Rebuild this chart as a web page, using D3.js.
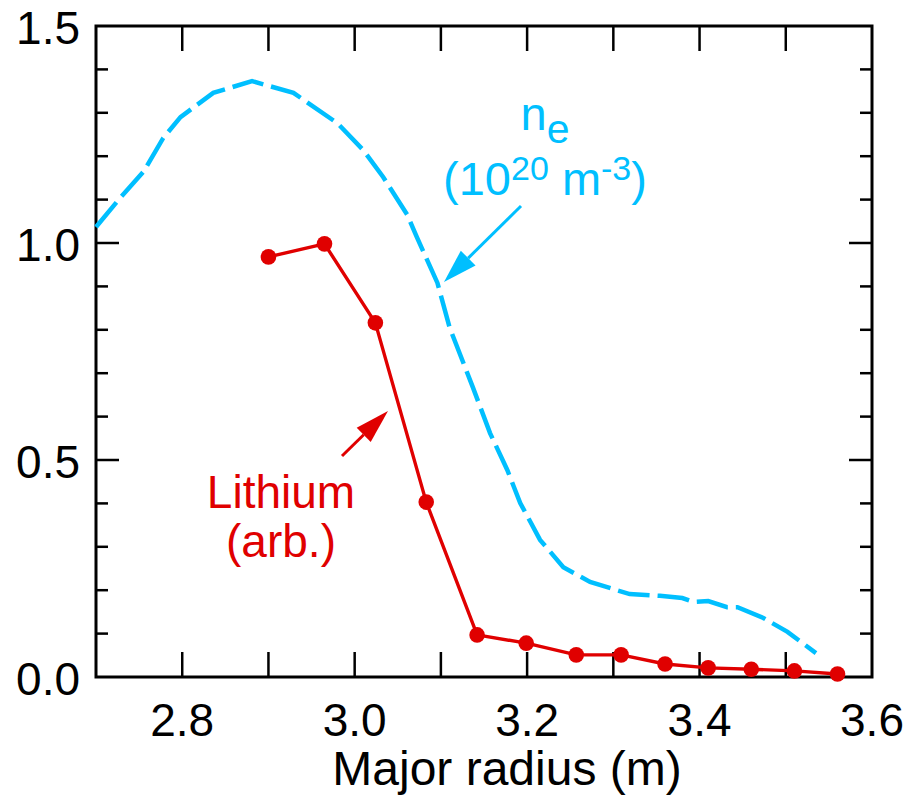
<!DOCTYPE html>
<html>
<head>
<meta charset="utf-8">
<script src="https://cdn.jsdelivr.net/npm/d3@7"></script>
<style>
  html, body { margin: 0; padding: 0; background: #fff; }
  svg { display: block; font-family: "Liberation Sans", Arial, Helvetica, sans-serif; }
</style>
</head>
<body>
<svg id="chart" width="912" height="795"></svg>
<script>
// Lithium emission (arbitrary units) vs major radius
const lithiumR = [2.900, 2.965, 3.024, 3.083, 3.142, 3.199, 3.257, 3.309, 3.360, 3.410, 3.460, 3.510, 3.560];
const lithiumV = [0.968, 0.998, 0.816, 0.403, 0.097, 0.078, 0.051, 0.051, 0.030, 0.021, 0.018, 0.014, 0.007];

// Electron density profile n_e (10^20 m^-3)
const densityR = [2.700, 2.728, 2.755, 2.778, 2.798, 2.836, 2.881, 2.929, 2.980, 3.010, 3.033, 3.061, 3.072,
                  3.096, 3.110, 3.126, 3.137, 3.157, 3.177, 3.192, 3.215, 3.242, 3.273, 3.319, 3.354, 3.380,
                  3.393, 3.410, 3.432, 3.444, 3.474, 3.502, 3.535];
const densityV = [1.037, 1.104, 1.164, 1.242, 1.290, 1.346, 1.373, 1.346, 1.276, 1.214, 1.152, 1.065, 1.014,
                  0.908, 0.806, 0.724, 0.668, 0.562, 0.477, 0.401, 0.316, 0.253, 0.219, 0.191, 0.187, 0.182,
                  0.173, 0.175, 0.161, 0.161, 0.136, 0.104, 0.055];

const xTickLabels = ["2.8", "3.0", "3.2", "3.4", "3.6"];
const yTickLabels = ["0.0", "0.5", "1.0", "1.5"];

const blue = "#00bfff";
const red = "#e00000";

const svg = d3.select("#chart");
const plotL = 96, plotR = 872, plotT = 26, plotB = 677;

const x = d3.scaleLinear().domain([2.7, 3.6]).range([plotL, plotR]);
const y = d3.scaleLinear().domain([0, 1.5]).range([plotB, plotT]);

const fontSize = 46;

// Tick marks: every 0.1 on x (inward, both top and bottom)
const xMinor = d3.range(28, 36).map(v => v / 10);
const yAll = d3.range(1, 15).map(v => v / 10);
const isMajorY = v => Math.abs(v * 2 - Math.round(v * 2)) < 1e-6;

const ticks = svg.append("g").attr("stroke", "#000").attr("stroke-width", 2.5);
xMinor.forEach(v => {
  ticks.append("line").attr("x1", x(v)).attr("x2", x(v)).attr("y1", plotB).attr("y2", plotB - 25);
  ticks.append("line").attr("x1", x(v)).attr("x2", x(v)).attr("y1", plotT).attr("y2", plotT + 25);
});
yAll.forEach(v => {
  const len = isMajorY(v) ? 23 : 12;
  ticks.append("line").attr("x1", plotL).attr("x2", plotL + len).attr("y1", y(v)).attr("y2", y(v));
  ticks.append("line").attr("x1", plotR).attr("x2", plotR - len).attr("y1", y(v)).attr("y2", y(v));
});

// Frame
svg.append("rect")
  .attr("x", plotL).attr("y", plotT)
  .attr("width", plotR - plotL).attr("height", plotB - plotT)
  .attr("fill", "none").attr("stroke", "#000").attr("stroke-width", 3);

// Tick labels
svg.append("g").selectAll("text").data(xTickLabels).join("text")
  .attr("x", d => x(+d)).attr("y", 736)
  .attr("text-anchor", "middle")
  .attr("font-size", fontSize).attr("fill", "#000")
  .text(d => d);

svg.append("g").selectAll("text").data(yTickLabels).join("text")
  .attr("x", 80).attr("y", d => y(+d)).attr("dy", "0.4em")
  .attr("text-anchor", "end")
  .attr("font-size", fontSize).attr("fill", "#000")
  .text(d => d);

// Axis title
svg.append("text")
  .attr("x", 507).attr("y", 785)
  .attr("text-anchor", "middle")
  .attr("font-size", 48).attr("fill", "#000")
  .text("Major radius (m)");

// Density curve (dashed)
const curve = d3.line().x(d => x(d[0])).y(d => y(d[1]));
svg.append("path")
  .datum(d3.zip(densityR, densityV))
  .attr("d", curve)
  .attr("fill", "none").attr("stroke", blue)
  .attr("stroke-width", 4.5)
  .attr("stroke-dasharray", "32,8");

// Lithium curve with markers
const lithium = d3.zip(lithiumR, lithiumV);
svg.append("path")
  .datum(lithium)
  .attr("d", curve)
  .attr("fill", "none").attr("stroke", red)
  .attr("stroke-width", 3.4)
  .attr("stroke-linejoin", "round");
svg.append("g").selectAll("circle").data(lithium).join("circle")
  .attr("cx", d => x(d[0])).attr("cy", d => y(d[1]))
  .attr("r", 7.8).attr("fill", red);

// Arrow helper: straight shaft with filled triangular head
function arrow(x1, y1, x2, y2, color, headLen, headW) {
  const a = Math.atan2(y2 - y1, x2 - x1);
  const bx = x2 - headLen * Math.cos(a), by = y2 - headLen * Math.sin(a);
  const px = -Math.sin(a) * headW / 2, py = Math.cos(a) * headW / 2;
  svg.append("line")
    .attr("x1", x1).attr("y1", y1).attr("x2", bx).attr("y2", by)
    .attr("stroke", color).attr("stroke-width", 3);
  svg.append("path")
    .attr("d", `M${x2},${y2}L${bx + px},${by + py}L${bx - px},${by - py}Z`)
    .attr("fill", color);
}

// n_e label
const neLabel = svg.append("text")
  .attr("x", 545).attr("y", 130)
  .attr("text-anchor", "middle")
  .attr("font-size", 47).attr("fill", blue);
neLabel.append("tspan").text("n");
neLabel.append("tspan").attr("font-size", 41).attr("dy", 13).text("e");

const unitLabel = svg.append("text")
  .attr("x", 545).attr("y", 195)
  .attr("text-anchor", "middle")
  .attr("font-size", 47).attr("fill", blue);
unitLabel.append("tspan").text("(10");
unitLabel.append("tspan").attr("font-size", 34).attr("dy", -15).text("20");
unitLabel.append("tspan").attr("dy", 15).text(" m");
unitLabel.append("tspan").attr("font-size", 34).attr("dy", -15).text("-3");
unitLabel.append("tspan").attr("dy", 15).text(")");

arrow(521, 206, 444, 282, blue, 34, 21);

// Lithium label
svg.append("text")
  .attr("x", 281).attr("y", 508)
  .attr("text-anchor", "middle")
  .attr("font-size", 46).attr("fill", red)
  .text("Lithium");
svg.append("text")
  .attr("x", 281).attr("y", 557)
  .attr("text-anchor", "middle")
  .attr("font-size", 46).attr("fill", red)
  .text("(arb.)");

arrow(342, 456, 388, 411, red, 34, 20);
</script>
</body>
</html>
